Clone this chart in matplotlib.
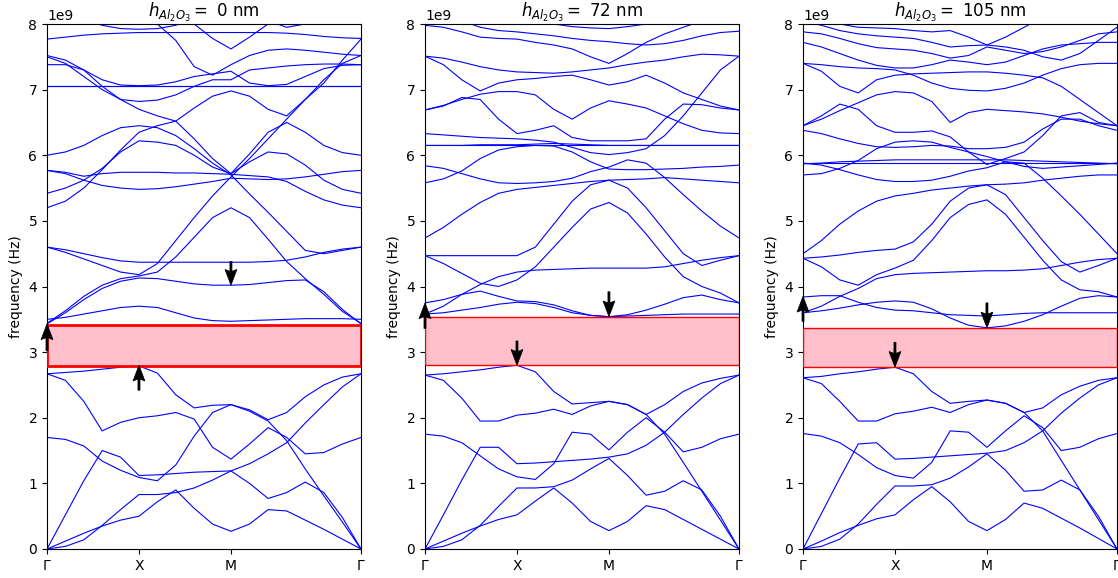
import numpy as np
import matplotlib
matplotlib.use("Agg")
import matplotlib.pyplot as plt

# ---------------- data ----------------
tick_labels = ["Γ", "X", "M", "Γ"]
thickness_nm = [0, 72, 105]
gap_lo = [2.79, 2.80, 2.77]   # GHz
gap_hi = [3.42, 3.54, 3.37]   # GHz

# arrows: (k, tail GHz, head GHz)
arrows_0 = [(0.0, 3.02, 3.43), (1.0, 2.42, 2.80), (2.0, 4.38, 4.02)]
arrows_72 = [(0.0, 3.36, 3.75), (1.0, 3.17, 2.80), (2.0, 3.92, 3.54)]
arrows_105 = [(0.0, 3.47, 3.85), (1.0, 3.15, 2.77), (2.0, 3.75, 3.37)]

# k samples: 5 steps G-X, 5 steps X-M, 7 steps M-G
kpath = [0.0, 0.2, 0.4, 0.6, 0.8, 1.0, 1.2, 1.4, 1.6, 1.8, 2.0,
         2.202, 2.404, 2.606, 2.808, 3.010, 3.212, 3.414]

bands_0 = [
    [0, 0.12, 0.24, 0.35, 0.44, 0.50, 0.72, 0.90, 0.62, 0.38, 0.27, 0.38, 0.60, 0.58, 0.44, 0.30, 0.15, 0],
    [0, 0.04, 0.14, 0.36, 0.60, 0.83, 0.83, 0.86, 0.93, 1.05, 1.19, 1.00, 0.77, 0.86, 1.02, 0.86, 0.48, 0],
    [0, 0.52, 1.04, 1.50, 1.40, 1.12, 1.13, 1.15, 1.17, 1.18, 1.19, 1.30, 1.45, 1.62, 1.92, 2.20, 2.47, 2.67],
    [1.70, 1.67, 1.57, 1.34, 1.20, 1.09, 1.04, 1.28, 1.72, 2.08, 2.20, 2.10, 1.95, 1.65, 1.22, 0.81, 0.41, 0],
    [2.67, 2.57, 2.25, 1.80, 1.93, 2.00, 2.03, 2.08, 1.98, 1.55, 1.37, 1.60, 1.85, 1.70, 1.45, 1.47, 1.60, 1.70],
    [2.67, 2.69, 2.71, 2.74, 2.77, 2.79, 2.68, 2.35, 2.15, 2.19, 2.20, 2.12, 1.97, 2.08, 2.32, 2.50, 2.62, 2.67],
    [3.50, 3.53, 3.58, 3.63, 3.68, 3.70, 3.68, 3.60, 3.52, 3.48, 3.47, 3.48, 3.49, 3.50, 3.51, 3.51, 3.51, 3.50],
    [3.43, 3.60, 3.80, 3.97, 4.08, 4.13, 4.12, 4.08, 4.04, 4.02, 4.02, 4.03, 4.06, 4.09, 4.10, 3.92, 3.65, 3.43],
    [3.44, 3.63, 3.85, 4.02, 4.12, 4.16, 4.22, 4.45, 4.75, 5.05, 5.20, 5.05, 4.72, 4.38, 4.12, 3.88, 3.62, 3.44],
    [4.60, 4.52, 4.42, 4.32, 4.22, 4.18, 4.35, 4.70, 5.05, 5.38, 5.67, 5.95, 6.25, 6.55, 6.85, 7.15, 7.40, 7.52],
    [4.60, 4.56, 4.50, 4.44, 4.39, 4.37, 4.37, 4.37, 4.37, 4.37, 4.37, 4.37, 4.38, 4.40, 4.45, 4.52, 4.57, 4.60],
    [5.20, 5.30, 5.50, 5.78, 6.08, 6.35, 6.45, 6.52, 6.72, 6.90, 6.98, 6.90, 6.70, 6.60, 6.85, 7.10, 7.45, 7.77],
    [5.42, 5.50, 5.62, 5.80, 6.05, 6.22, 6.20, 6.15, 6.00, 5.82, 5.72, 5.90, 6.05, 6.02, 5.85, 5.62, 5.48, 5.42],
    [5.77, 5.72, 5.62, 5.54, 5.50, 5.48, 5.49, 5.52, 5.56, 5.60, 5.65, 5.64, 5.63, 5.64, 5.67, 5.71, 5.75, 5.77],
    [5.77, 5.74, 5.68, 5.72, 5.74, 5.74, 5.74, 5.73, 5.73, 5.72, 5.71, 5.69, 5.67, 5.60, 5.45, 5.32, 5.24, 5.20],
    [6.00, 6.05, 6.15, 6.30, 6.42, 6.45, 6.42, 6.30, 6.10, 5.88, 5.70, 5.41, 5.13, 4.84, 4.55, 4.50, 4.55, 4.60],
    [7.52, 7.45, 7.30, 7.05, 6.85, 6.70, 6.60, 6.52, 6.25, 5.95, 5.72, 6.02, 6.35, 6.50, 6.35, 6.15, 6.04, 6.00],
    [7.05, 7.05, 7.05, 7.05, 7.05, 7.05, 7.05, 7.05, 7.05, 7.05, 7.05, 7.05, 7.05, 7.05, 7.05, 7.05, 7.05, 7.05],
    [7.06, 7.06, 7.06, 7.06, 7.06, 7.06, 7.06, 7.06, 7.06, 7.06, 7.06, 7.06, 7.06, 7.06, 7.06, 7.06, 7.06, 7.06],
    [7.38, 7.38, 7.30, 7.15, 7.07, 7.06, 7.07, 7.12, 7.20, 7.24, 7.28, 7.10, 7.06, 7.08, 7.20, 7.32, 7.37, 7.38],
    [7.50, 7.40, 7.20, 7.00, 6.85, 6.82, 6.84, 6.92, 7.05, 7.15, 7.15, 7.30, 7.33, 7.36, 7.38, 7.39, 7.39, 7.38],
    [8.60, 8.55, 8.45, 8.35, 8.22, 8.10, 8.00, 7.75, 7.35, 7.22, 7.38, 7.52, 7.60, 7.62, 7.60, 7.57, 7.54, 7.52],
    [9.00, 9.00, 8.90, 8.80, 8.60, 8.40, 8.30, 8.15, 8.00, 7.78, 7.62, 7.80, 8.00, 8.20, 8.40, 8.50, 8.60, 8.60],
    [7.77, 7.80, 7.83, 7.85, 7.86, 7.87, 7.87, 7.87, 7.87, 7.87, 7.87, 7.87, 7.87, 7.86, 7.84, 7.81, 7.79, 7.78],
    [8.30, 8.20, 8.08, 7.98, 7.93, 7.92, 7.93, 7.98, 8.10, 8.20, 8.30, 8.20, 8.05, 7.95, 8.00, 8.10, 8.20, 8.30],
]

bands_72 = [
    [0, 0.12, 0.24, 0.35, 0.45, 0.52, 0.73, 0.93, 0.70, 0.42, 0.28, 0.42, 0.66, 0.60, 0.45, 0.30, 0.15, 0],
    [0, 0.04, 0.14, 0.36, 0.65, 0.93, 0.93, 0.95, 1.05, 1.22, 1.38, 1.12, 0.82, 0.88, 1.04, 0.90, 0.50, 0],
    [0, 0.52, 1.05, 1.55, 1.55, 1.30, 1.31, 1.33, 1.35, 1.37, 1.40, 1.45, 1.58, 1.78, 2.05, 2.30, 2.52, 2.65],
    [1.75, 1.72, 1.62, 1.42, 1.22, 1.10, 1.06, 1.30, 1.78, 1.75, 1.51, 1.78, 2.00, 1.78, 1.48, 1.55, 1.68, 1.75],
    [2.65, 2.57, 2.30, 1.95, 1.95, 2.04, 2.07, 2.13, 2.05, 2.18, 2.25, 2.20, 2.05, 1.75, 1.32, 0.88, 0.44, 0],
    [2.65, 2.67, 2.70, 2.73, 2.77, 2.80, 2.70, 2.40, 2.21, 2.23, 2.25, 2.20, 2.05, 2.20, 2.40, 2.53, 2.60, 2.65],
    [3.58, 3.60, 3.64, 3.68, 3.73, 3.76, 3.74, 3.68, 3.60, 3.56, 3.54, 3.55, 3.56, 3.57, 3.58, 3.58, 3.58, 3.58],
    [3.75, 3.80, 3.88, 3.93, 3.85, 3.78, 3.77, 3.72, 3.63, 3.56, 3.54, 3.57, 3.64, 3.73, 3.83, 3.87, 3.80, 3.75],
    [3.58, 3.70, 3.88, 4.03, 4.15, 4.22, 4.25, 4.26, 4.27, 4.28, 4.28, 4.28, 4.28, 4.30, 4.35, 4.40, 4.44, 4.47],
    [4.47, 4.35, 4.20, 4.05, 4.00, 4.10, 4.30, 4.60, 4.90, 5.18, 5.28, 5.12, 4.80, 4.45, 4.15, 4.00, 3.90, 3.75],
    [4.47, 4.47, 4.47, 4.47, 4.47, 4.47, 4.60, 4.95, 5.30, 5.55, 5.62, 5.50, 5.20, 4.85, 4.50, 4.32, 4.40, 4.47],
    [4.74, 4.90, 5.10, 5.28, 5.42, 5.48, 5.51, 5.54, 5.57, 5.60, 5.62, 5.63, 5.64, 5.66, 5.64, 5.62, 5.60, 5.58],
    [5.84, 5.80, 5.72, 5.64, 5.58, 5.57, 5.58, 5.60, 5.65, 5.75, 5.82, 5.93, 5.88, 5.66, 5.40, 5.15, 4.92, 4.74],
    [5.58, 5.64, 5.76, 5.95, 6.08, 6.13, 6.15, 6.14, 6.05, 5.90, 5.79, 5.78, 5.78, 5.79, 5.80, 5.82, 5.83, 5.85],
    [6.15, 6.15, 6.15, 6.15, 6.15, 6.15, 6.15, 6.15, 6.15, 6.15, 6.15, 6.15, 6.15, 6.15, 6.15, 6.15, 6.15, 6.15],
    [6.15, 6.15, 6.15, 6.16, 6.16, 6.16, 6.17, 6.18, 6.17, 6.16, 6.15, 6.15, 6.15, 6.15, 6.15, 6.15, 6.15, 6.15],
    [6.33, 6.31, 6.29, 6.27, 6.26, 6.25, 6.23, 6.20, 6.12, 6.04, 6.01, 6.04, 6.10, 6.30, 6.60, 6.95, 7.30, 7.51],
    [6.69, 6.76, 6.85, 6.93, 6.97, 6.97, 6.92, 6.70, 6.55, 6.72, 6.83, 6.78, 6.72, 6.60, 6.48, 6.38, 6.34, 6.33],
    [6.69, 6.75, 6.88, 6.85, 6.55, 6.33, 6.38, 6.45, 6.27, 6.22, 6.22, 6.22, 6.25, 6.55, 6.78, 6.77, 6.72, 6.69],
    [7.51, 7.38, 7.15, 6.98, 7.10, 7.15, 7.17, 7.20, 7.22, 7.15, 7.07, 7.12, 7.22, 7.10, 6.95, 6.85, 6.75, 6.69],
    [7.51, 7.48, 7.42, 7.35, 7.30, 7.27, 7.26, 7.25, 7.27, 7.30, 7.33, 7.38, 7.42, 7.45, 7.50, 7.54, 7.53, 7.51],
    [7.98, 7.95, 7.88, 7.80, 7.78, 7.77, 7.72, 7.68, 7.62, 7.50, 7.40, 7.55, 7.72, 7.85, 7.95, 8.05, 8.10, 8.10],
    [8.30, 8.20, 8.05, 7.95, 7.90, 7.88, 7.85, 7.82, 7.78, 7.75, 7.73, 7.70, 7.68, 7.70, 7.75, 7.82, 7.87, 7.89],
    [8.60, 8.50, 8.40, 8.30, 8.20, 8.10, 8.05, 8.00, 7.96, 7.94, 7.93, 7.96, 8.00, 8.05, 8.10, 8.10, 8.05, 7.99],
]

bands_105 = [
    [0, 0.12, 0.25, 0.36, 0.46, 0.52, 0.75, 0.95, 0.72, 0.42, 0.28, 0.45, 0.70, 0.62, 0.47, 0.32, 0.16, 0],
    [0, 0.04, 0.15, 0.38, 0.68, 0.96, 0.96, 0.98, 1.08, 1.25, 1.45, 1.20, 0.88, 0.90, 1.05, 0.90, 0.50, 0],
    [0, 0.54, 1.08, 1.60, 1.62, 1.37, 1.38, 1.40, 1.42, 1.44, 1.46, 1.50, 1.62, 1.80, 2.07, 2.30, 2.50, 2.61],
    [1.76, 1.72, 1.62, 1.44, 1.24, 1.12, 1.08, 1.32, 1.80, 1.78, 1.55, 1.80, 2.03, 1.85, 1.50, 1.55, 1.68, 1.76],
    [2.61, 2.52, 2.25, 1.95, 1.95, 2.06, 2.10, 2.16, 2.08, 2.20, 2.27, 2.22, 2.08, 1.80, 1.35, 0.90, 0.45, 0],
    [2.61, 2.63, 2.67, 2.70, 2.74, 2.77, 2.67, 2.40, 2.22, 2.25, 2.27, 2.22, 2.08, 2.15, 2.35, 2.48, 2.57, 2.61],
    [3.60, 3.63, 3.67, 3.72, 3.76, 3.78, 3.76, 3.66, 3.52, 3.41, 3.37, 3.40, 3.47, 3.57, 3.70, 3.82, 3.86, 3.84],
    [3.84, 3.86, 3.86, 3.76, 3.68, 3.64, 3.63, 3.60, 3.57, 3.56, 3.55, 3.57, 3.59, 3.60, 3.60, 3.60, 3.60, 3.60],
    [3.60, 3.70, 3.85, 3.97, 4.12, 4.18, 4.20, 4.21, 4.22, 4.23, 4.24, 4.24, 4.25, 4.27, 4.32, 4.37, 4.41, 4.43],
    [4.43, 4.30, 4.10, 4.02, 4.18, 4.28, 4.40, 4.70, 5.05, 5.25, 5.32, 5.10, 4.75, 4.40, 4.10, 3.95, 3.92, 3.84],
    [4.43, 4.45, 4.48, 4.52, 4.55, 4.57, 4.68, 4.95, 5.30, 5.50, 5.55, 5.40, 5.05, 4.70, 4.38, 4.22, 4.32, 4.43],
    [4.50, 4.70, 4.95, 5.15, 5.30, 5.38, 5.42, 5.47, 5.50, 5.53, 5.55, 5.56, 5.58, 5.62, 5.65, 5.68, 5.70, 5.70],
    [5.88, 5.85, 5.78, 5.70, 5.63, 5.60, 5.60, 5.62, 5.68, 5.76, 5.81, 5.90, 5.88, 5.65, 5.38, 5.10, 4.80, 4.50],
    [5.70, 5.72, 5.80, 5.92, 6.10, 6.20, 6.22, 6.20, 6.12, 6.05, 5.98, 5.90, 5.83, 5.80, 5.82, 5.84, 5.86, 5.88],
    [5.88, 5.88, 5.88, 5.88, 5.88, 5.88, 5.88, 5.88, 5.88, 5.88, 5.88, 5.88, 5.88, 5.88, 5.88, 5.88, 5.88, 5.88],
    [5.87, 5.88, 5.90, 5.91, 5.92, 5.93, 5.93, 5.93, 5.93, 5.93, 5.93, 5.93, 5.92, 5.91, 5.90, 5.89, 5.88, 5.87],
    [6.38, 6.33, 6.25, 6.18, 6.13, 6.12, 6.13, 6.15, 6.14, 6.10, 6.10, 6.12, 6.20, 6.40, 6.55, 6.55, 6.45, 6.38],
    [6.45, 6.55, 6.68, 6.80, 6.92, 6.97, 6.95, 6.82, 6.50, 6.65, 6.70, 6.68, 6.66, 6.63, 6.58, 6.52, 6.48, 6.45],
    [6.45, 6.60, 6.78, 6.70, 6.45, 6.35, 6.35, 6.37, 6.28, 6.05, 5.86, 5.95, 6.05, 6.30, 6.60, 6.65, 6.50, 6.45],
    [7.40, 7.28, 7.05, 6.95, 7.15, 7.22, 7.24, 7.25, 7.26, 7.27, 7.27, 7.25, 7.22, 7.18, 7.05, 6.85, 6.65, 6.45],
    [7.40, 7.38, 7.35, 7.33, 7.32, 7.30, 7.22, 7.10, 7.02, 6.99, 6.98, 7.02, 7.10, 7.22, 7.32, 7.38, 7.40, 7.40],
    [7.72, 7.65, 7.55, 7.45, 7.37, 7.33, 7.33, 7.38, 7.45, 7.42, 7.38, 7.42, 7.52, 7.62, 7.68, 7.70, 7.72, 7.72],
    [7.88, 7.85, 7.78, 7.70, 7.64, 7.62, 7.60, 7.55, 7.48, 7.52, 7.65, 7.60, 7.55, 7.58, 7.65, 7.75, 7.85, 7.88],
    [8.05, 7.98, 7.90, 7.85, 7.82, 7.80, 7.78, 7.72, 7.65, 7.67, 7.68, 7.65, 7.60, 7.50, 7.45, 7.55, 7.75, 7.95],
    [8.30, 8.15, 8.00, 7.95, 7.94, 7.93, 7.90, 7.88, 7.90, 7.80, 7.68, 7.80, 7.95, 8.10, 8.20, 8.20, 8.10, 8.00],
]

all_bands = [bands_0, bands_72, bands_105]
all_arrows = [arrows_0, arrows_72, arrows_105]
gap_edge_lw = [2.0, 1.0, 1.0]

# ---------------- plot ----------------
fig = plt.figure(figsize=(11.18, 5.78), dpi=100)
lefts = [47 / 1118, 425 / 1118, 803 / 1118]
w = 314 / 1118
b = 29 / 578
h = 525 / 578
k = np.array(kpath)
kticks = [kpath[0], kpath[5], kpath[10], kpath[-1]]

for i in range(3):
    ax = fig.add_axes([lefts[i], b, w, h])
    for band in all_bands[i]:
        ax.plot(k, np.array(band) * 1e9, color="blue", lw=0.8)
    ax.axhspan(gap_lo[i] * 1e9, gap_hi[i] * 1e9, facecolor="pink",
               edgecolor="red", lw=gap_edge_lw[i], zorder=3)
    for (xa, yt, yh) in all_arrows[i]:
        ax.arrow(xa, yt * 1e9, 0, (yh - yt) * 1e9, width=0.022,
                 head_width=0.13, head_length=0.24e9, overhang=0.12,
                 length_includes_head=True, facecolor="black",
                 edgecolor="black", lw=0.5, zorder=5, clip_on=False)
    ax.set_xlim(kpath[0], kpath[-1])
    ax.set_ylim(0, 8e9)
    ax.set_xticks(kticks)
    ax.set_xticklabels(tick_labels)
    ax.set_ylabel("frequency (Hz)")
    ax.set_title(r"$h_{Al_2O_3} = $ " + f"{thickness_nm[i]} nm", fontsize=12, pad=4)

fig.savefig("out.png", dpi=100)
